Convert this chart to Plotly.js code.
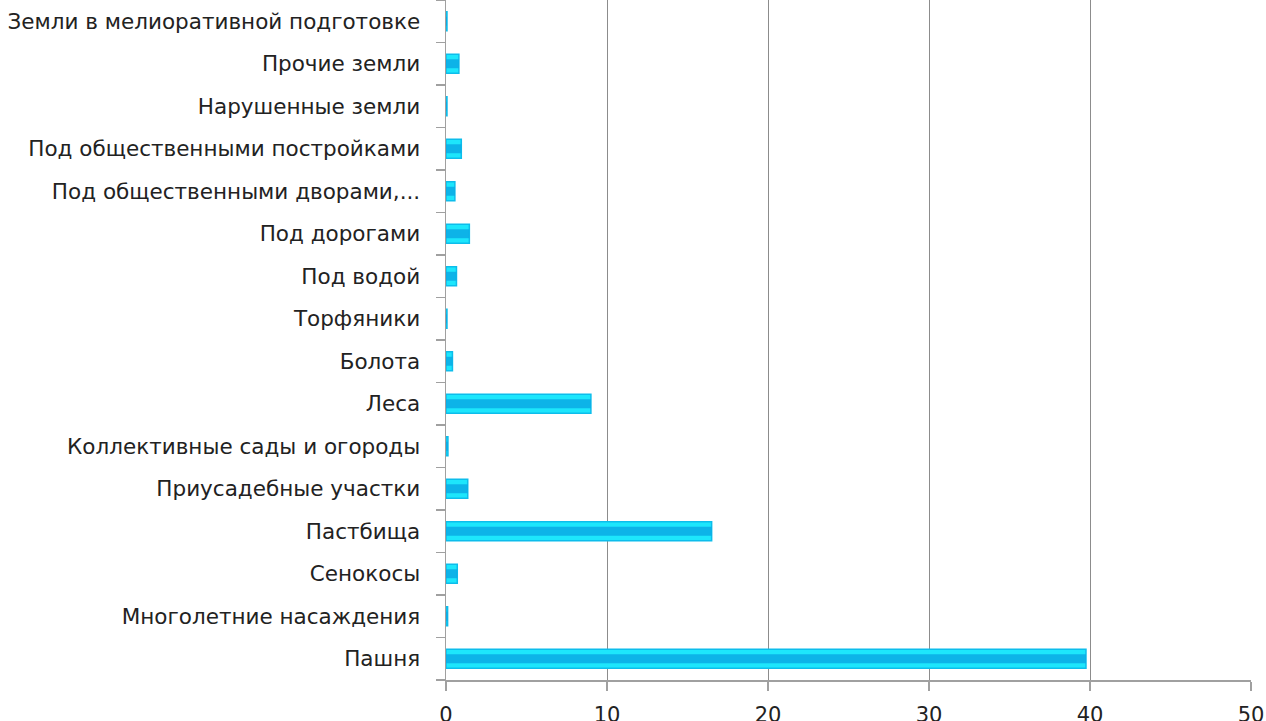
<!DOCTYPE html>
<html><head><meta charset="utf-8">
<script src="https://cdn.plot.ly/plotly-3.0.1.min.js"></script>
<style>html,body{margin:0;padding:0;background:#fff;}#chart{width:1266px;height:721px;}</style>
</head><body><div id="chart"></div>
<script>
const categories = [
  "Пашня",
  "Многолетние насаждения",
  "Сенокосы",
  "Пастбища",
  "Приусадебные участки",
  "Коллективные сады и огороды",
  "Леса",
  "Болота",
  "Торфяники",
  "Под водой",
  "Под дорогами",
  "Под общественными дворами,...",
  "Под общественными постройками",
  "Нарушенные земли",
  "Прочие земли",
  "Земли в мелиоративной подготовке"
];
const values = [39.75, 0.1, 0.7, 16.5, 1.35, 0.12, 9.0, 0.4, 0.06, 0.65, 1.45, 0.55, 0.95, 0.06, 0.8, 0.06];
const xTicks = [0, 10, 20, 30, 40, 50];

const outer = {
  type: 'bar', orientation: 'h', y: categories, x: values, width: 0.45,
  marker: {color: '#1DE6FC', line: {color: '#0DBDEB', width: 1.5}},
  hoverinfo: 'x+y', showlegend: false
};
const inner = {
  type: 'bar', orientation: 'h', y: categories, x: values, width: 0.21,
  marker: {color: '#0BA9E4', line: {width: 0}, opacity: 0.85},
  hoverinfo: 'skip', showlegend: false
};
const layout = {
  width: 1266, height: 721,
  margin: {l: 446, r: 15, t: 0, b: 41, pad: 0},
  paper_bgcolor: '#fff', plot_bgcolor: '#fff',
  barmode: 'overlay',
  font: {family: 'DejaVu Sans, sans-serif', size: 21, color: '#222'},
  xaxis: {
    range: [0, 50], tickvals: xTicks, ticktext: xTicks.map(String),
    showgrid: true, gridcolor: '#8c8c8c', gridwidth: 1,
    zeroline: false, showline: true, linecolor: '#a0a0a0', linewidth: 1.5,
    ticks: 'outside', ticklen: 9, tickcolor: '#a0a0a0', tickwidth: 1.5,
    ticklabelstandoff: 6,
    tickfont: {size: 21, color: '#222'}, fixedrange: true
  },
  yaxis: {
    type: 'category', categoryorder: 'array', categoryarray: categories,
    range: [-0.5, categories.length - 0.5],
    showline: true, linecolor: '#a0a0a0', linewidth: 1.5,
    ticks: 'outside', ticklen: 9, tickcolor: '#a0a0a0', tickwidth: 1.5,
    tickson: 'boundaries', showgrid: false,
    ticklabelstandoff: 20,
    tickfont: {size: 21.5, color: '#222'}, fixedrange: true
  }
};
Plotly.newPlot('chart', [outer, inner], layout, {displayModeBar: false, staticPlot: true});
</script></body></html>
